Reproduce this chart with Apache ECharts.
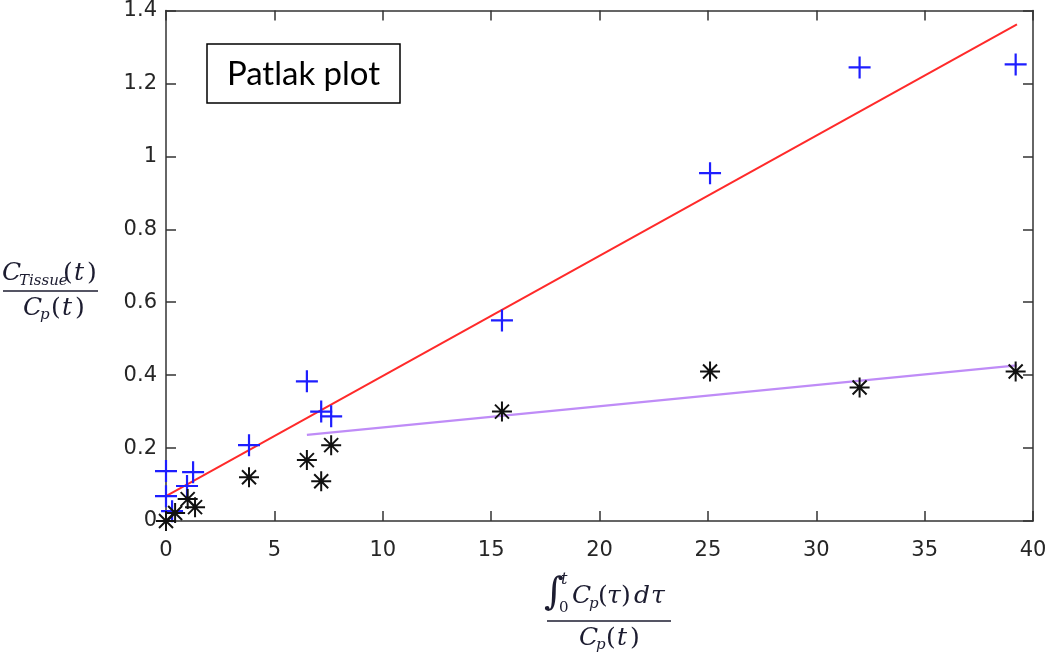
<!DOCTYPE html>
<html>
<head>
<meta charset="utf-8">
<script src="https://cdn.jsdelivr.net/npm/echarts@6/dist/echarts.min.js"></script>
<style>html,body{margin:0;padding:0;background:#fff;}#chart{width:1050px;height:657px;}</style>
</head>
<body>
<div id="chart"></div>
<script>
// Data
const plusX = [0, 0, 0.28, 0.97, 1.25, 3.83, 6.5, 7.16, 7.62, 15.5, 25.1, 32.0, 39.2];
const plusY = [0.137, 0.068, 0.027, 0.096, 0.134, 0.208, 0.383, 0.30, 0.287, 0.55, 0.954, 1.244, 1.252];
const starX = [0, 0.42, 1.0, 1.34, 3.83, 6.5, 7.16, 7.62, 15.5, 25.1, 32.0, 39.2];
const starY = [0, 0.022, 0.06, 0.038, 0.12, 0.167, 0.109, 0.208, 0.30, 0.41, 0.366, 0.41];
const fitRedX = [0, 39.26];
const fitRedY = [0.068, 1.362];
const fitPurpleX = [6.5, 39.26];
const fitPurpleY = [0.236, 0.427];
const xTicks = [0, 5, 10, 15, 20, 25, 30, 35, 40];
const yTicks = [0, 0.2, 0.4, 0.6, 0.8, 1, 1.2, 1.4];
const titleText = 'Patlak plot';

const zip = (a, b) => a.map((v, i) => [v, b[i]]);

const plusPath = 'path://M0,9L20,9L20,11L0,11Z M9,0L11,0L11,20L9,20Z';
const starPath = 'path://M0,45L100,45L100,55L0,55Z M45,0L55,0L55,100L45,100Z M11.5,18.5L18.5,11.5L88.5,81.5L81.5,88.5Z M81.5,11.5L88.5,18.5L18.5,88.5L11.5,81.5Z';

const chart = echarts.init(document.getElementById('chart'));
const axisCommon = {
  type: 'value',
  axisLine: { show: true, onZero: false, lineStyle: { color: '#333', width: 1.5 } },
  axisTick: { show: true, inside: true, length: 10, lineStyle: { color: '#333', width: 1.5 } },
  splitLine: { show: false }
};
const labelStyle = { color: '#262626', fontFamily: 'DejaVu Sans', fontSize: 21 };
const mathFont = 'DejaVu Serif';
const mc = '#1c1c30';
function tx(text, x, y, size, italic) {
  return { type: 'text', x: x, y: y, style: { text: text, font: (italic ? 'italic ' : '') + size + 'px "' + mathFont + '"', fill: mc, align: 'left', verticalAlign: 'middle' } };
}

const option = {
  animation: false,
  backgroundColor: '#fff',
  grid: { left: 166, right: 17, top: 10, bottom: 136, containLabel: false },
  xAxis: [
    Object.assign({}, axisCommon, { min: 0, max: 40, interval: 5, position: 'bottom',
      axisLabel: Object.assign({ margin: 19, formatter: v => xTicks.includes(v) ? String(v) : '' }, labelStyle) }),
    Object.assign({}, axisCommon, { min: 0, max: 40, interval: 5, position: 'top', axisLabel: { show: false } })
  ],
  yAxis: [
    Object.assign({}, axisCommon, { min: 0, max: 1.4, interval: 0.2, position: 'left',
      axisLabel: Object.assign({ margin: 9, formatter: v => { const r = Math.round(v * 10) / 10; return yTicks.includes(r) ? String(r) : ''; } }, labelStyle) }),
    Object.assign({}, axisCommon, { min: 0, max: 1.4, interval: 0.2, position: 'right', axisLabel: { show: false } })
  ],
  series: [
    { type: 'line', data: zip(fitRedX, fitRedY), showSymbol: false, symbol: 'none', lineStyle: { color: '#ff2a2a', width: 2 }, z: 2 },
    { type: 'line', data: zip(fitPurpleX, fitPurpleY), showSymbol: false, symbol: 'none', lineStyle: { color: '#bf8cf7', width: 2.2 }, z: 2 },
    { type: 'scatter', data: zip(plusX, plusY), symbol: plusPath, symbolSize: 22, itemStyle: { color: '#1e1eff', opacity: 1 }, z: 3 },
    { type: 'scatter', data: zip(starX, starY), symbol: starPath, symbolSize: 20, itemStyle: { color: '#111', opacity: 1 }, z: 4 }
  ],
  graphic: [
    { type: 'rect', shape: { x: 207, y: 44, width: 193, height: 59 }, style: { fill: '#fff', stroke: '#000', lineWidth: 1.5 }, z: 10 },
    { type: 'text', x: 303.5, y: 74, z: 11, style: { text: titleText, font: '33px Lato', fill: '#000', align: 'center', verticalAlign: 'middle' } },
    // y-axis title: C_Tissue(t) / C_p(t)
    tx('C', 2, 273, 25, true),
    tx('Tissue', 19, 281, 15, true),
    tx('(', 63, 273, 25, false), tx('t', 74, 273, 25, true), tx(')', 87, 273, 25, false),
    { type: 'line', shape: { x1: 3, y1: 291, x2: 98, y2: 291 }, style: { stroke: mc, lineWidth: 1.5 } },
    tx('C', 23, 308, 25, true),
    tx('p', 40, 315, 15, true),
    tx('(', 51, 308, 25, false), tx('t', 62, 308, 25, true), tx(')', 75, 308, 25, false),
    // x-axis title: ∫0^t C_p(τ)dτ / C_p(t)
    tx('∫', 544, 594, 38, false),
    tx('t', 561, 580, 16, true),
    tx('0', 559, 608, 15, false),
    tx('C', 572, 596, 25, true),
    tx('p', 589, 604, 15, true),
    tx('(', 598, 596, 25, false), tx('τ', 607, 596, 25, true), tx(')', 621, 596, 25, false),
    tx('d', 634, 596, 25, true), tx('τ', 651, 596, 25, true),
    { type: 'line', shape: { x1: 547, y1: 621, x2: 671, y2: 621 }, style: { stroke: mc, lineWidth: 1.5 } },
    tx('C', 579, 638, 25, true),
    tx('p', 596, 645, 15, true),
    tx('(', 606, 638, 25, false), tx('t', 617, 638, 25, true), tx(')', 630, 638, 25, false)
  ]
};
chart.setOption(option);
</script>
</body>
</html>
